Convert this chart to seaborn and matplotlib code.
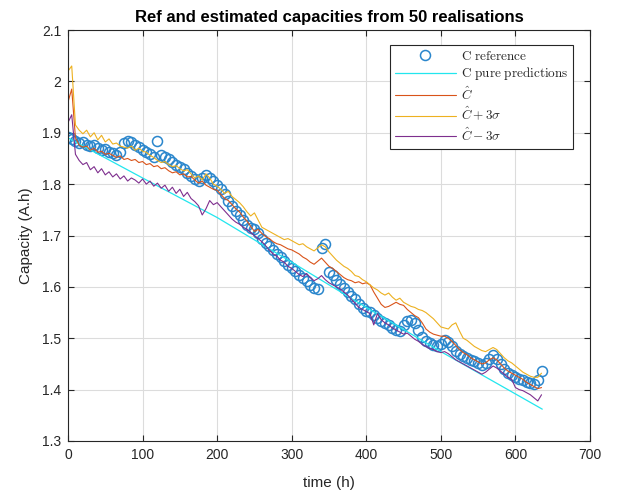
import numpy as np
import pandas as pd
import matplotlib
matplotlib.use("Agg")
import matplotlib.pyplot as plt
import seaborn as sns

# ---------------- data ----------------
time_h = list(range(0, 640, 5))

c_reference = [
    1.892, 1.888, 1.884, 1.880, 1.882, 1.876, 1.874, 1.877, 1.870, 1.866,
    1.868, 1.862, 1.860, 1.856, 1.862, 1.880, 1.884, 1.882, 1.876, 1.872,
    1.866, 1.862, 1.858, 1.852, 1.884, 1.856, 1.852, 1.848, 1.844, 1.838,
    1.834, 1.830, 1.822, 1.816, 1.810, 1.806, 1.812, 1.818, 1.812, 1.806,
    1.798, 1.790, 1.780, 1.768, 1.758, 1.748, 1.740, 1.730, 1.720, 1.714,
    1.712, 1.704, 1.694, 1.686, 1.680, 1.672, 1.664, 1.658, 1.650, 1.642,
    1.636, 1.630, 1.624, 1.618, 1.612, 1.604, 1.598, 1.596, 1.675, 1.684,
    1.628, 1.624, 1.614, 1.606, 1.598, 1.590, 1.582, 1.576, 1.566, 1.558,
    1.554, 1.552, 1.546, 1.540, 1.534, 1.530, 1.526, 1.520, 1.516, 1.514,
    1.526, 1.534, 1.536, 1.530, 1.516, 1.502, 1.494, 1.490, 1.486, 1.484,
    1.488, 1.496, 1.492, 1.484, 1.476, 1.470, 1.466, 1.462, 1.458, 1.456,
    1.452, 1.448, 1.452, 1.460, 1.468, 1.460, 1.450, 1.440, 1.432, 1.428,
    1.424, 1.420, 1.418, 1.414, 1.412, 1.410, 1.418, 1.436,
]

pred_time = [0, 100, 200, 300, 400, 500, 636]
c_pure_pred = [1.890, 1.812, 1.735, 1.648, 1.560, 1.474, 1.362]

c_hat = [
    1.960, 1.985, 1.890, 1.876, 1.872, 1.874, 1.866, 1.870, 1.862, 1.864,
    1.858, 1.860, 1.856, 1.852, 1.855, 1.848, 1.850, 1.846, 1.848, 1.842,
    1.844, 1.838, 1.840, 1.834, 1.836, 1.830, 1.832, 1.826, 1.822, 1.824,
    1.818, 1.820, 1.814, 1.815, 1.808, 1.802, 1.806, 1.798, 1.794, 1.790,
    1.788, 1.780, 1.772, 1.768, 1.760, 1.752, 1.746, 1.736, 1.728, 1.718,
    1.708, 1.712, 1.704, 1.698, 1.694, 1.688, 1.684, 1.682, 1.678, 1.674,
    1.672, 1.668, 1.664, 1.658, 1.654, 1.648, 1.644, 1.650, 1.656, 1.648,
    1.640, 1.636, 1.630, 1.624, 1.618, 1.614, 1.612, 1.608, 1.610, 1.606,
    1.608, 1.604, 1.590, 1.578, 1.566, 1.560, 1.562, 1.566, 1.570, 1.566,
    1.564, 1.556, 1.550, 1.544, 1.540, 1.530, 1.518, 1.512, 1.508, 1.506,
    1.504, 1.504, 1.500, 1.494, 1.486, 1.478, 1.472, 1.468, 1.462, 1.458,
    1.454, 1.450, 1.452, 1.458, 1.462, 1.458, 1.450, 1.442, 1.436, 1.432,
    1.428, 1.424, 1.420, 1.414, 1.410, 1.406, 1.402, 1.404,
]

c_hat_plus = [
    2.020, 2.030, 1.915, 1.905, 1.898, 1.905, 1.892, 1.900, 1.886, 1.895,
    1.882, 1.888, 1.878, 1.880, 1.874, 1.872, 1.870, 1.874, 1.866, 1.870,
    1.864, 1.862, 1.856, 1.852, 1.846, 1.842, 1.844, 1.838, 1.834, 1.836,
    1.830, 1.826, 1.828, 1.820, 1.812, 1.816, 1.808, 1.820, 1.812, 1.800,
    1.796, 1.790, 1.782, 1.786, 1.776, 1.770, 1.764, 1.756, 1.746, 1.738,
    1.744, 1.730, 1.716, 1.712, 1.708, 1.704, 1.700, 1.696, 1.692, 1.694,
    1.690, 1.686, 1.682, 1.684, 1.678, 1.674, 1.670, 1.676, 1.682, 1.678,
    1.668, 1.660, 1.652, 1.646, 1.640, 1.636, 1.630, 1.622, 1.620, 1.614,
    1.610, 1.604, 1.598, 1.594, 1.588, 1.584, 1.588, 1.580, 1.574, 1.578,
    1.570, 1.566, 1.562, 1.560, 1.556, 1.554, 1.550, 1.544, 1.538, 1.530,
    1.522, 1.520, 1.518, 1.526, 1.530, 1.514, 1.500, 1.496, 1.490, 1.484,
    1.480, 1.476, 1.474, 1.478, 1.482, 1.478, 1.470, 1.462, 1.456, 1.452,
    1.446, 1.440, 1.434, 1.430, 1.426, 1.424, 1.424, 1.432,
]

c_hat_minus = [
    1.920, 1.935, 1.858, 1.846, 1.838, 1.842, 1.828, 1.834, 1.822, 1.830,
    1.818, 1.824, 1.814, 1.820, 1.810, 1.816, 1.806, 1.812, 1.808, 1.802,
    1.810, 1.800, 1.806, 1.796, 1.802, 1.792, 1.798, 1.786, 1.794, 1.782,
    1.790, 1.776, 1.784, 1.772, 1.766, 1.758, 1.740, 1.752, 1.768, 1.760,
    1.764, 1.756, 1.748, 1.740, 1.732, 1.726, 1.722, 1.716, 1.712, 1.706,
    1.700, 1.694, 1.688, 1.680, 1.672, 1.664, 1.660, 1.652, 1.648, 1.640,
    1.636, 1.630, 1.624, 1.620, 1.626, 1.618, 1.612, 1.616, 1.622, 1.614,
    1.608, 1.604, 1.600, 1.596, 1.590, 1.584, 1.576, 1.568, 1.560, 1.556,
    1.552, 1.548, 1.526, 1.548, 1.536, 1.530, 1.526, 1.520, 1.516, 1.512,
    1.508, 1.510, 1.504, 1.498, 1.494, 1.488, 1.484, 1.480, 1.478, 1.474,
    1.472, 1.474, 1.470, 1.464, 1.458, 1.454, 1.450, 1.446, 1.442, 1.438,
    1.434, 1.430, 1.434, 1.440, 1.446, 1.442, 1.436, 1.430, 1.424, 1.420,
    1.404, 1.400, 1.398, 1.394, 1.390, 1.384, 1.378, 1.390,
]

x_ticks = [0, 100, 200, 300, 400, 500, 600, 700]
y_ticks = [1.3, 1.4, 1.5, 1.6, 1.7, 1.8, 1.9, 2.0, 2.1]

labels = [r"$\mathrm{C\ reference}$", r"$\mathrm{C\ pure\ predictions}$",
          r"$\hat{C}$", r"$\hat{C}+3\sigma$", r"$\hat{C}-3\sigma$"]

# ---------------- style ----------------
sns.set_theme(style="white")
plt.rcParams["font.family"] = ["Liberation Sans", "DejaVu Sans"]
plt.rcParams["mathtext.fontset"] = "cm"

dark = "#262626"
fig = plt.figure(figsize=(6.22, 4.96), dpi=100)
ax = fig.add_axes([68 / 622, 1 - 441 / 496, (590 - 68) / 622, (441 - 30) / 496])

df = pd.DataFrame({"t": time_h, "ref": c_reference, "hat": c_hat,
                   "plus": c_hat_plus, "minus": c_hat_minus})
dp = pd.DataFrame({"t": pred_time, "pred": c_pure_pred})

sns.lineplot(data=df, x="t", y="ref", ax=ax, estimator=None, sort=False,
             linestyle="", marker="o", markersize=7.2, markerfacecolor="none",
             markeredgecolor="#2A86CC", markeredgewidth=1.1, color="#2A86CC",
             label=labels[0])
sns.lineplot(data=dp, x="t", y="pred", ax=ax, estimator=None, sort=False,
             color="#22E6EE", lw=0.9, label=labels[1])
sns.lineplot(data=df, x="t", y="hat", ax=ax, estimator=None, sort=False,
             color="#D95319", lw=0.8, label=labels[2])
sns.lineplot(data=df, x="t", y="plus", ax=ax, estimator=None, sort=False,
             color="#EDB120", lw=0.8, label=labels[3])
sns.lineplot(data=df, x="t", y="minus", ax=ax, estimator=None, sort=False,
             color="#7E2F8E", lw=0.8, label=labels[4])

ax.set_xlim(0, 700)
ax.set_ylim(1.3, 2.1)
ax.set_xticks(x_ticks)
ax.set_yticks(y_ticks)
ax.set_xticklabels([f"{v:g}" for v in x_ticks])
ax.set_yticklabels([f"{v:g}" for v in y_ticks])
ax.grid(True, color="#DCDCDC", lw=0.8)
ax.set_axisbelow(True)
for s in ax.spines.values():
    s.set_color(dark)
    s.set_linewidth(0.8)
    s.set_visible(True)
ax.tick_params(direction="in", length=4, width=0.8, colors=dark,
               labelsize=10, top=True, right=True, bottom=True, left=True,
               pad=5)
ax.set_xlabel("time (h)", fontsize=11, color=dark, labelpad=10)
ax.set_ylabel("Capacity (A.h)", fontsize=11, color=dark, labelpad=6)
ax.set_title("Ref and estimated capacities from 50 realisations",
             fontsize=12, fontweight="bold", color="black", pad=6)

leg = ax.legend(loc="upper right", bbox_to_anchor=((573 - 68) / 522, (441 - 45) / 411),
                borderaxespad=0, fontsize=9.5, frameon=True, fancybox=False,
                edgecolor=dark, framealpha=1, handlelength=4.6,
                handletextpad=0.4, labelspacing=0.2, borderpad=0.35)
leg.get_frame().set_linewidth(0.8)

fig.savefig("out.png", dpi=100)
